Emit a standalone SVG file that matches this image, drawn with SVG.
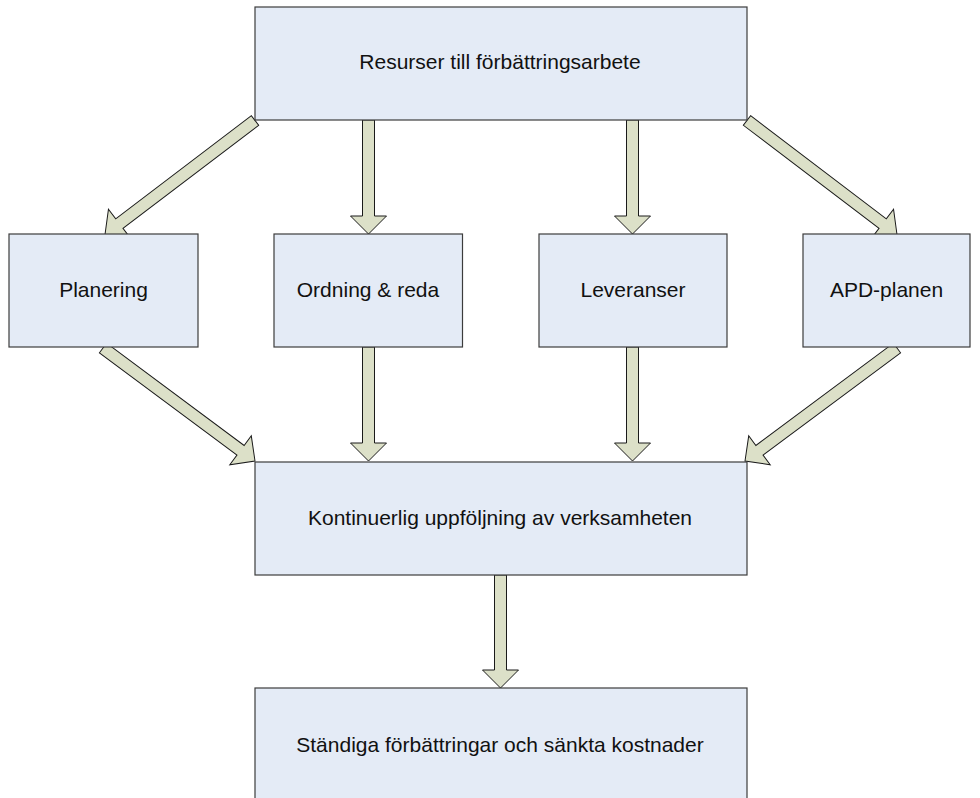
<svg xmlns="http://www.w3.org/2000/svg" width="980" height="798" viewBox="0 0 980 798">
  <style>
    .box { fill: #E4EBF6; stroke: #3C3C3C; stroke-width: 1.2; }
    .lbl { font-family: "Liberation Sans", Arial, sans-serif; font-size: 21px; fill: #111; text-anchor: middle; }
    .arr { fill: #DCE0C8; stroke: #1A1A1A; stroke-width: 1; stroke-linejoin: miter; }
  </style>
  <rect width="980" height="798" fill="#FFFFFF"/>

  <!-- block arrows: shaft half-width 6, head half-width 18, head length 18 -->
  <g id="connectors">
    <!-- top box to the four middle boxes -->
    <polygon class="arr" transform="translate(255,120.5) rotate(142.76)" points="0,-6 170.4,-6 170.4,-18 188.4,0 170.4,18 170.4,6 0,6"/>
    <polygon class="arr" transform="translate(368.5,120) rotate(90)" points="0,-6 96,-6 96,-18 114,0 96,18 96,6 0,6"/>
    <polygon class="arr" transform="translate(632.5,120) rotate(90)" points="0,-6 96,-6 96,-18 114,0 96,18 96,6 0,6"/>
    <polygon class="arr" transform="translate(747,120.5) rotate(37.24)" points="0,-6 170.4,-6 170.4,-18 188.4,0 170.4,18 170.4,6 0,6"/>
    <!-- middle boxes to the follow-up box -->
    <polygon class="arr" transform="translate(103,348) rotate(36.63)" points="0,-6 171.4,-6 171.4,-18 189.4,0 171.4,18 171.4,6 0,6"/>
    <polygon class="arr" transform="translate(368.5,347) rotate(90)" points="0,-6 96,-6 96,-18 114,0 96,18 96,6 0,6"/>
    <polygon class="arr" transform="translate(632.5,347) rotate(90)" points="0,-6 96,-6 96,-18 114,0 96,18 96,6 0,6"/>
    <polygon class="arr" transform="translate(897,348) rotate(143.37)" points="0,-6 171.4,-6 171.4,-18 189.4,0 171.4,18 171.4,6 0,6"/>
    <!-- follow-up box to the result box -->
    <polygon class="arr" transform="translate(500.5,575) rotate(90)" points="0,-6 95,-6 95,-18 113,0 95,18 95,6 0,6"/>
  </g>

  <g id="resurser">
    <rect class="box" x="255" y="7" width="492" height="113"/>
    <text class="lbl" x="500" y="68.5">Resurser till förbättringsarbete</text>
  </g>

  <g id="planering">
    <rect class="box" x="9" y="234" width="189" height="113"/>
    <text class="lbl" x="103.5" y="297">Planering</text>
  </g>

  <g id="ordning">
    <rect class="box" x="274" y="234" width="188.5" height="113"/>
    <text class="lbl" x="368" y="297">Ordning &amp; reda</text>
  </g>

  <g id="leveranser">
    <rect class="box" x="539" y="234" width="188" height="113"/>
    <text class="lbl" x="633" y="297">Leveranser</text>
  </g>

  <g id="apd">
    <rect class="box" x="803" y="234" width="167" height="113"/>
    <text class="lbl" x="886.5" y="297">APD-planen</text>
  </g>

  <g id="uppfoljning">
    <rect class="box" x="255" y="462" width="492" height="113"/>
    <text class="lbl" x="500" y="525">Kontinuerlig uppföljning av verksamheten</text>
  </g>

  <g id="forbattringar">
    <rect class="box" x="255" y="688" width="492" height="120"/>
    <text class="lbl" x="500" y="752">Ständiga förbättringar och sänkta kostnader</text>
  </g>
</svg>
